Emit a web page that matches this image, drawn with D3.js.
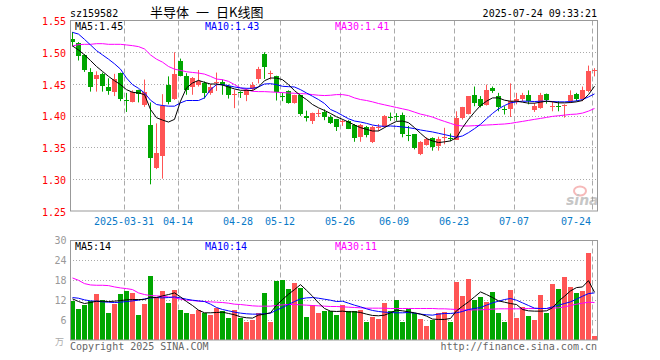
<!DOCTYPE html>
<html><head><meta charset="utf-8">
<script src="https://cdn.jsdelivr.net/npm/d3@7"></script>
<style>body{margin:0;background:#fff}svg{display:block}</style>
</head><body><svg id="c" width="660" height="360"></svg>
<script>
// ---------- data ----------
const dates = ["03-18","03-19","03-20","03-21","03-24","03-25","03-26","03-27","03-28","03-31",
"04-01","04-02","04-03","04-07","04-08","04-09","04-10","04-11","04-14","04-15","04-16","04-17","04-18","04-21","04-22","04-23","04-24","04-25","04-28","04-29","04-30",
"05-06","05-07","05-08","05-09","05-12","05-13","05-14","05-15","05-16","05-19","05-20","05-21","05-22","05-23","05-26","05-27","05-28","05-29","05-30",
"06-03","06-04","06-05","06-06","06-09","06-10","06-11","06-12","06-13","06-16","06-17","06-18","06-19","06-20","06-23","06-24","06-25","06-26","06-27","06-30",
"07-01","07-02","07-03","07-04","07-07","07-08","07-09","07-10","07-11","07-14","07-15","07-16","07-17","07-18","07-21","07-22","07-23","07-24"];
const openP  = [1.521,1.514,1.496,1.469,1.457,1.465,1.445,1.438,1.467,1.425,1.422,1.440,1.416,1.385,1.318,1.338,1.449,1.427,1.487,1.463,1.445,1.449,1.452,1.437,1.452,1.453,1.447,1.432,1.4375,1.432,1.442,1.458,
1.497,1.466,1.463,1.431,1.439,1.420,1.432,1.400,1.392,1.404,1.406,1.398,1.395,1.391,1.392,1.385,1.366,1.382,1.359,1.381,1.382,1.3985,1.400,1.401,1.370,1.371,1.340,1.354,1.365,1.352,1.365,1.365,
1.362,1.395,1.402,1.432,1.426,1.418,1.444,1.431,1.4105,1.410,1.423,1.425,1.433,1.410,1.413,1.435,1.4155,1.416,1.415,1.423,1.435,1.426,1.440,1.4715];
const highP  = [1.532,1.516,1.497,1.475,1.470,1.468,1.459,1.466,1.468,1.436,1.440,1.441,1.457,1.421,1.388,1.434,1.462,1.500,1.490,1.467,1.461,1.472,1.454,1.450,1.468,1.457,1.449,1.441,1.4385,1.443,1.453,1.477,
1.500,1.471,1.463,1.436,1.440,1.433,1.433,1.408,1.405,1.410,1.410,1.401,1.395,1.394,1.393,1.387,1.387,1.384,1.384,1.387,1.401,1.405,1.404,1.405,1.384,1.371,1.360,1.366,1.366,1.367,1.381,1.372,
1.407,1.414,1.431,1.446,1.431,1.449,1.446,1.436,1.415,1.451,1.436,1.436,1.440,1.420,1.436,1.435,1.423,1.423,1.418,1.440,1.436,1.446,1.479,1.475];
const lowP   = [1.509,1.487,1.469,1.438,1.438,1.438,1.433,1.431,1.423,1.406,1.421,1.421,1.414,1.292,1.316,1.301,1.418,1.425,1.462,1.433,1.433,1.446,1.427,1.433,1.439,1.433,1.427,1.412,1.428,1.423,1.439,1.451,
1.458,1.457,1.424,1.423,1.419,1.419,1.400,1.391,1.387,1.398,1.393,1.387,1.376,1.384,1.379,1.359,1.359,1.366,1.357,1.376,1.381,1.392,1.392,1.366,1.360,1.347,1.338,1.353,1.345,1.345,1.355,1.360,
1.362,1.394,1.402,1.415,1.413,1.416,1.436,1.407,1.402,1.398,1.418,1.423,1.418,1.406,1.411,1.419,1.407,1.407,1.397,1.420,1.423,1.423,1.437,1.462];
const closeP = [1.516,1.493,1.472,1.446,1.464,1.446,1.439,1.458,1.426,1.424,1.437,1.433,1.437,1.333,1.342,1.416,1.422,1.466,1.464,1.441,1.459,1.455,1.437,1.446,1.453,1.449,1.433,1.434,1.437,1.440,1.449,1.474,
1.476,1.467,1.438,1.430,1.420,1.432,1.402,1.397,1.404,1.405,1.398,1.388,1.382,1.392,1.380,1.364,1.385,1.369,1.382,1.382,1.400,1.398,1.399,1.371,1.369,1.349,1.359,1.363,1.351,1.363,1.366,1.364,
1.397,1.413,1.431,1.420,1.415,1.441,1.439,1.413,1.410,1.423,1.426,1.432,1.423,1.416,1.433,1.425,1.416,1.4155,1.417,1.432,1.427,1.440,1.471,1.4725];
const volume = [11.7,9.3,10.5,11.7,13.8,12,8.1,11,13.8,14.7,14.1,7.5,10.8,19.2,12.9,14.7,11.1,15,9,8.1,7.8,9,8.1,7.5,9.6,8.7,6.6,9,6.6,5.5,6,8.1,
14.1,5.4,17.8,18,15.3,17.1,15.6,6.9,10.7,8.1,8.8,8.6,7.5,10.5,8.7,8.7,9,5.4,6.9,6.3,11.1,8.7,12,5.4,9.3,8,6.3,4.2,6,8.1,8.4,5.4,
17.4,13.2,18.3,12,12.9,11.4,14.4,8.1,5.4,15,6.6,9.9,7.2,6,13.5,8.1,16.8,15.3,18.9,15.9,14.1,14.7,26.1,1.2];
const ma5 = [1.5099,1.5036,1.4958,1.487,1.4776,1.4698,1.462,1.4552,1.449,1.4411,1.437,1.4359,1.4333,1.4099,1.3969,1.3932,1.3901,1.3943,1.4229,1.4438,1.4516,1.4557,1.4526,1.45,1.45,1.4484,1.4453,1.4422,1.4401,1.4401,1.4396,1.4453,
1.4552,1.4594,1.4594,1.4568,1.449,1.4396,1.4318,1.4255,1.4177,1.4125,1.4083,1.4036,1.3984,1.3943,1.3901,1.3854,1.3813,1.3786,1.376,1.376,1.3813,1.3865,1.3911,1.3917,1.3891,1.3813,1.3724,1.3641,1.3604,1.3578,
1.3589,1.3604,1.3656,1.3813,1.3943,1.4057,1.4161,1.4229,1.4281,1.4281,1.4245,1.4229,1.4229,1.4214,1.4198,1.4198,1.4214,1.4229,1.4219,1.4203,1.4203,1.4208,1.4219,1.424,1.4333,1.4464];
const ma10 = [1.5313,1.5286,1.5203,1.5115,1.5026,1.4958,1.4891,1.4818,1.4734,1.4594,1.449,1.4432,1.4359,1.4245,1.4177,1.4161,1.4151,1.4151,1.4203,1.424,1.424,1.424,1.4281,1.4411,1.449,1.449,1.4474,1.4453,1.4438,1.4432,1.4432,1.4453,
1.45,1.4505,1.449,1.4464,1.4458,1.4453,1.4411,1.4359,1.4307,1.4255,1.4193,1.4099,1.4057,1.4005,1.3953,1.3917,1.3901,1.388,1.3854,1.3839,1.3833,1.3839,1.3833,1.3823,1.3813,1.3797,1.3776,1.376,1.3745,1.3724,
1.3703,1.3682,1.3661,1.3682,1.3734,1.3797,1.3865,1.3953,1.4036,1.4109,1.4161,1.4203,1.4219,1.4229,1.4229,1.4224,1.4229,1.4229,1.4224,1.4219,1.4219,1.4224,1.4234,1.4255,1.4297,1.4344];
const ma30 = [1.5099,1.512,1.5125,1.5125,1.5135,1.5135,1.5125,1.5125,1.5125,1.5115,1.5104,1.5089,1.5052,1.4958,1.4891,1.4844,1.4776,1.4734,1.4714,1.4693,1.4682,1.4672,1.4656,1.462,1.4578,1.4568,1.4542,1.449,1.4438,1.4411,1.4385,1.438,
1.438,1.4375,1.437,1.4365,1.4359,1.4354,1.4349,1.4344,1.4333,1.4323,1.4318,1.4323,1.4333,1.4333,1.4318,1.4281,1.4255,1.424,1.4219,1.4193,1.4172,1.4151,1.413,1.4109,1.4089,1.4057,1.4026,1.4005,1.3979,1.3943,
1.3911,1.388,1.3849,1.3839,1.3839,1.3844,1.3849,1.3854,1.3859,1.3865,1.387,1.388,1.3896,1.3911,1.3927,1.3943,1.3958,1.3974,1.399,1.4,1.401,1.4021,1.4026,1.4042,1.4073,1.4115];
const vma5 = [12.4,11.6,11,11.3,11.7,11.7,11.6,11.7,11.9,12.1,12.2,12.2,12.2,12.9,12.8,13.3,13.7,14.2,13,11.6,10.4,9,8.2,8.2,8.3,8.4,8,7.6,7,6.7,6.6,7.5,7.8,8.2,10.5,12.2,13.8,15.2,16.7,15,13.2,11.2,9.5,8.7,8.6,
8.7,8.5,8.5,8.3,7.8,7.4,7.3,7.5,8.2,9,8.8,8.5,8.2,7.8,7.2,6.3,6.2,6.2,6.5,8.8,10.2,11.5,13,14.5,13.7,12.8,11.8,11.4,11,10.7,9.2,8.8,8.7,8.7,8.8,9.7,11.7,13.2,14.8,15.8,16,17.9,14.4];
const vma10 = [12.8,12.6,12.1,11.8,11.7,11.5,11.4,11.3,11.4,11.6,11.8,12,12.4,12.7,12.8,12.7,12.8,13,12.7,12.3,12,11.8,11.6,10.8,9.8,9.2,8.8,8.4,8.1,7.9,7.8,7.8,7.9,8.1,9,9.8,10.7,11.6,12.4,12.7,12.8,12.6,12.3,12,11.6,
11.7,11.1,10.5,10,9.4,8.9,8.6,8.4,8.3,8.2,8.2,8.3,8.1,7.8,7.6,7.5,7.8,8,8,8.2,8.6,9.2,9.5,9.8,10.5,11.2,11.7,12.2,12.5,12,11.2,10.4,9.6,9.5,9.5,10,10.5,11,11.5,12.3,13.2,14,14.2];
const vma30 = [18.7,18,17,16.6,16.5,16.5,16.4,16,15.7,15.5,15.2,14.2,13.7,13.4,13.3,13.2,13,12.7,12.3,12,11.9,11.7,11.6,11.5,11.4,11.3,11.1,10.8,10.7,10.5,10.3,10.2,10.2,10.2,10.4,10.6,10.7,10.7,10.6,10.5,10.4,10.3,10.2,10.1,10.1,
10.0,9.9,9.8,9.7,9.6,9.6,9.6,9.6,9.5,9.5,9.5,9.5,9.5,9.5,9.5,9.5,9.4,9.4,9.3,9.2,9.1,9.0,9.1,9.1,9.2,9.3,9.4,9.4,9.4,9.4,9.4,9.5,9.5,9.5,9.5,9.6,9.7,10.0,10.4,10.8,11.1,11.4,11.3];
const dateTicks = ["03-31","04-14","04-28","05-12","05-26","06-09","06-23","07-07","07-24"];
const dateTickLabels = ["2025-03-31","04-14","04-28","05-12","05-26","06-09","06-23","07-07","07-24"];
const priceTicks = [1.25,1.30,1.35,1.40,1.45,1.50,1.55];
const volTicks = [6,12,18,24,30];

// ---------- drawing ----------
const svg = d3.select('#c');
const MONO = "'DejaVu Sans Mono', monospace";
const UP = "#ff5555", DOWN = "#00a600";
const L = 70, R = 597;
const x = d3.scaleLinear().domain([0, 88]).range([L, L + 528]);
const y = d3.scaleLinear().domain([1.25, 1.55]).range([211, 20.5]);
const yv = d3.scaleLinear().domain([0, 30]).range([340, 240.5]);
const N = dates.length;
const idx = d3.range(N);
const crisp = v => Math.round(v) + 0.5;

// horizontal dotted grids
svg.append('g').selectAll('line').data(priceTicks.slice(1, -1)).join('line')
  .attr('x1', L).attr('x2', R).attr('y1', d => crisp(y(d))).attr('y2', d => crisp(y(d)))
  .attr('stroke', '#aaa').attr('stroke-dasharray', '1,2');
svg.append('g').selectAll('line').data(volTicks.slice(0, -1)).join('line')
  .attr('x1', L).attr('x2', R).attr('y1', d => crisp(yv(d))).attr('y2', d => crisp(yv(d)))
  .attr('stroke', '#aaa').attr('stroke-dasharray', '1,2');

// vertical dashed grids
const tickIdx = dateTicks.map(d => dates.indexOf(d));
[[20.5, 211], [240.5, 340]].forEach(([t, b]) => {
  svg.append('g').selectAll('line').data(tickIdx).join('line')
    .attr('x1', d => x(d) + 0.5).attr('x2', d => x(d) + 0.5).attr('y1', t).attr('y2', b)
    .attr('stroke', '#aaa').attr('stroke-dasharray', '5,3');
});

const isUp = i => closeP[i] >= openP[i];

// candles
const cg = svg.append('g');
cg.selectAll('line').data(idx).join('line')
  .attr('x1', i => x(i) + 2.5).attr('x2', i => x(i) + 2.5)
  .attr('y1', i => y(highP[i])).attr('y2', i => y(lowP[i]))
  .attr('stroke', i => isUp(i) ? UP : DOWN);
cg.selectAll('rect').data(idx).join('rect')
  .attr('x', i => x(i)).attr('width', 5)
  .attr('y', i => Math.round(y(Math.max(openP[i], closeP[i]))))
  .attr('height', i => Math.max(1, Math.round(Math.abs(y(openP[i]) - y(closeP[i])))))
  .attr('fill', i => isUp(i) ? UP : DOWN)
  .attr('shape-rendering', 'crispEdges');

// volume bars
svg.append('g').selectAll('rect').data(idx).join('rect')
  .attr('x', i => x(i)).attr('width', 5)
  .attr('y', i => Math.round(yv(volume[i]))).attr('height', i => 340 - Math.round(yv(volume[i])))
  .attr('fill', i => isUp(i) ? UP : DOWN)
  .attr('shape-rendering', 'crispEdges');

// MA lines
const lineP = d3.line().x((d, i) => x(i) + 2.5).y(d => y(d));
const lineV = d3.line().x((d, i) => x(i) + 2.5).y(d => yv(d));
[[ma30, '#ff00ff'], [ma10, '#0000ff'], [ma5, '#000000']].forEach(([s, c]) =>
  svg.append('path').attr('d', lineP(s)).attr('fill', 'none').attr('stroke', c).attr('stroke-width', 1));
[[vma30, '#ff00ff'], [vma10, '#0000ff'], [vma5, '#000000']].forEach(([s, c]) =>
  svg.append('path').attr('d', lineV(s)).attr('fill', 'none').attr('stroke', c).attr('stroke-width', 1));

// frames
svg.append('rect').attr('x', 70.5).attr('y', 20.5).attr('width', 527).attr('height', 190.5)
  .attr('fill', 'none').attr('stroke', '#999');
svg.append('rect').attr('x', 70.5).attr('y', 240.5).attr('width', 527).attr('height', 99.5)
  .attr('fill', 'none').attr('stroke', '#999');

// sina watermark
const wm = svg.append('g').attr('opacity', 0.55);
wm.append('ellipse').attr('cx', 580).attr('cy', 191).attr('rx', 6).attr('ry', 4.5)
  .attr('fill', 'none').attr('stroke', '#f08080').attr('stroke-width', 2);
wm.append('text').attr('x', 566).attr('y', 205).text('sina')
  .attr('font-family', "'DejaVu Sans', sans-serif").attr('font-size', 14).attr('font-weight', 'bold')
  .attr('font-style', 'italic').attr('fill', '#999');

// price axis labels
svg.append('g').selectAll('text').data(priceTicks).join('text')
  .attr('x', 66).attr('y', d => y(d) + 4.5).attr('text-anchor', 'end')
  .attr('font-family', MONO).attr('font-size', 10).attr('fill', '#ff0000')
  .text(d => d.toFixed(2));
// volume axis labels
svg.append('g').selectAll('text').data(volTicks).join('text')
  .attr('x', 66.5).attr('y', d => yv(d) + 3.5).attr('text-anchor', 'end')
  .attr('font-family', MONO).attr('font-size', 10).attr('fill', '#999')
  .text(d => d);
svg.append('text').attr('x', 64).attr('y', 345).attr('text-anchor', 'end')
  .attr('font-family', "'Noto Sans CJK SC', sans-serif").attr('font-size', 9).attr('fill', '#aaa')
  .text('万');

// date labels
svg.append('g').selectAll('text').data(tickIdx).join('text')
  .attr('x', (d, k) => k === tickIdx.length - 1 ? x(d) - 1 : x(d))
  .attr('y', 225)
  .attr('text-anchor', (d, k) => k === tickIdx.length - 1 ? 'end' : 'middle')
  .attr('font-family', MONO).attr('font-size', 10).attr('fill', '#0a7ac8')
  .text((d, k) => dateTickLabels[k]);

// headers
const hdr = (t, xx, yy, c, a) => svg.append('text').attr('x', xx).attr('y', yy)
  .attr('text-anchor', a || 'start').attr('font-family', MONO).attr('font-size', 10).attr('fill', c).text(t);
hdr('sz159582', 70, 17, '#000');
hdr('2025-07-24 09:33:21', 597, 17, '#000', 'end');
const t = svg.append('text').attr('x', 150).attr('y', 17)
  .attr('font-family', "'Noto Sans CJK SC', sans-serif").attr('font-size', 13).attr('fill', '#000');
t.append('tspan').text('半导体');
t.append('tspan').attr('x', 196).text('一');
t.append('tspan').attr('x', 216).text('日K线图');

hdr('MA5:' + ma5[N - 1].toFixed(2), 75, 30, '#000');
hdr('MA10:' + ma10[N - 1].toFixed(2), 205, 30, '#0000ff');
hdr('MA30:' + ma30[N - 1].toFixed(2), 335, 30, '#ff00ff');
hdr('MA5:' + Math.round(vma5[N - 1]), 75, 250, '#000');
hdr('MA10:' + Math.round(vma10[N - 1]), 205, 250, '#0000ff');
hdr('MA30:' + Math.round(vma30[N - 1]), 335, 250, '#ff00ff');

hdr('Copyright 2025 SINA.COM', 70, 350, '#666');
hdr('http://finance.sina.com.cn', 597, 350, '#666', 'end');
</script></body></html>
